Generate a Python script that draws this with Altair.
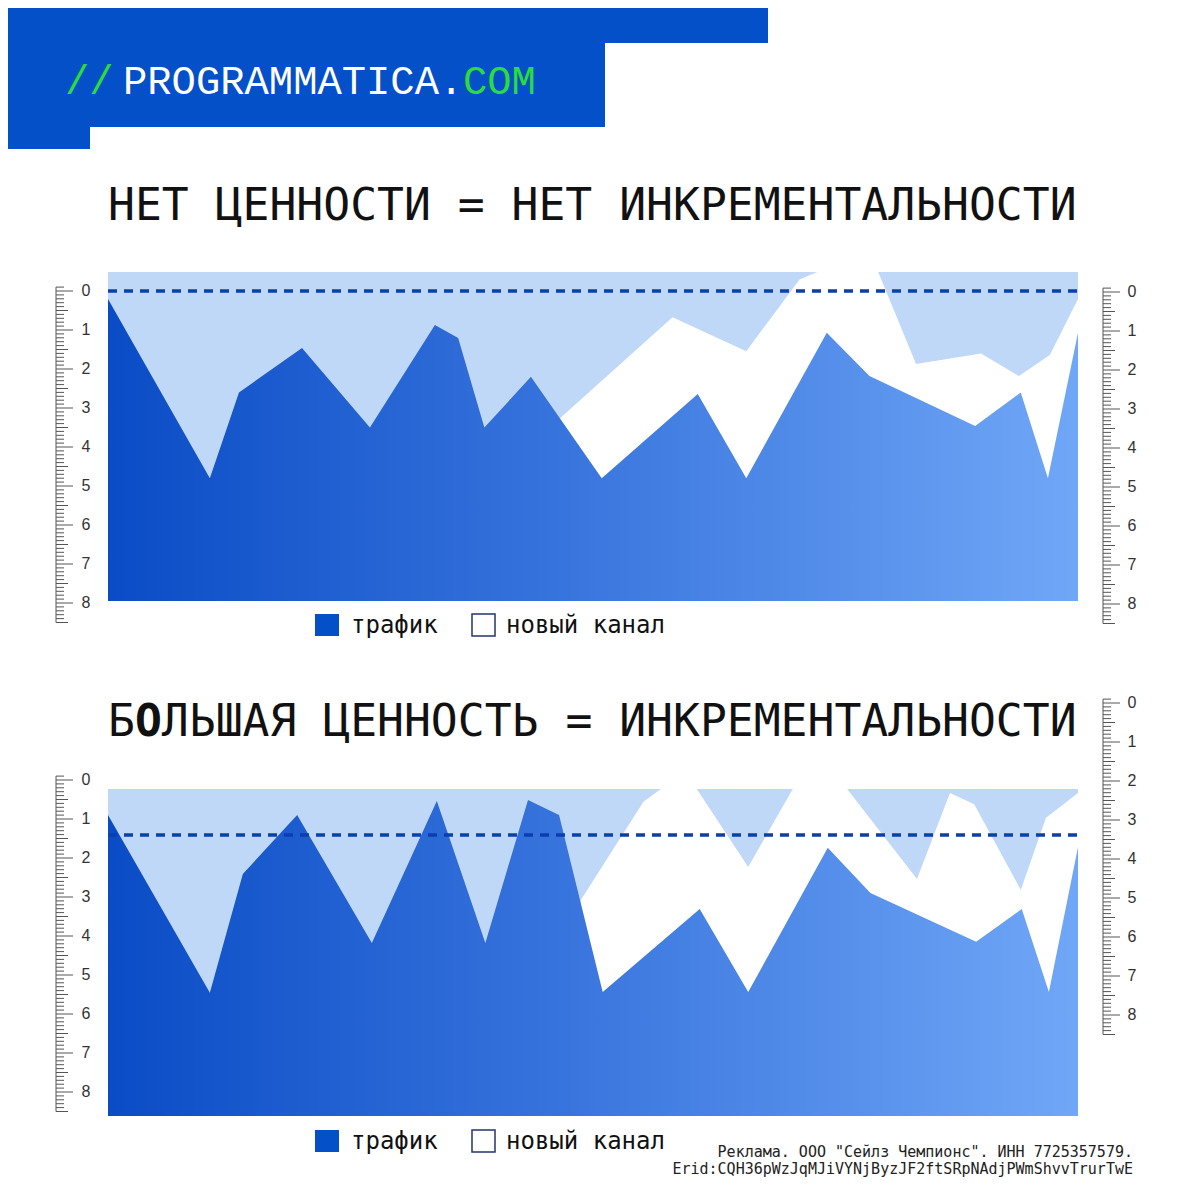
import altair as alt
import pandas as pd

# ------------------------------------------------------------------ data
# chart 1 (top): position along the period (0..100) and depth (0 = top)
TOP_T = [0, 10.5, 13.5, 20.0, 27.0, 33.7, 36.1, 38.8, 43.6, 50.9, 60.8, 65.8, 74.1, 78.5, 89.4, 94.1, 96.9, 100]
TOP_TRAFFIC = [0.2, 4.8, 2.6, 1.46, 3.5, 0.87, 1.2, 3.5, 2.2, 4.8, 2.64, 4.8, 1.07, 2.18, 3.46, 2.6, 4.8, 1.07]
TOP_NEW_T = [46.6, 58.2, 65.8, 71.3, 73.1, 79.4, 83.3, 90.0, 93.9, 97.1, 100]
TOP_NEW = [3.26, 0.67, 1.54, -0.3, -0.49, -0.49, 1.87, 1.6, 2.18, 1.64, 0.2]
TOP_TARGET = 0.0
TOP_DOMAIN = [-0.49, 7.95]

# chart 2 (bottom)
BOT_T = [0, 10.5, 13.9, 19.5, 27.2, 33.9, 38.9, 43.3, 46.5, 51.0, 61.0, 66.0, 74.2, 78.6, 89.5, 94.2, 97.0, 100]
BOT_TRAFFIC = [0.9, 5.46, 2.41, 0.9, 4.18, 0.54, 4.18, 0.51, 0.9, 5.44, 3.31, 5.44, 1.74, 2.9, 4.15, 3.31, 5.44, 1.72]
BOT_NEW_T = [48.7, 55.2, 57.0, 60.7, 66.0, 70.6, 76.2, 83.4, 86.8, 89.3, 94.1, 96.7, 100]
BOT_NEW = [3.1, 0.56, 0.23, 0.23, 2.23, 0.23, 0.23, 2.54, 0.33, 0.62, 2.82, 0.97, 0.33]
BOT_TARGET = 1.41
BOT_DOMAIN = [0.23, 8.62]

RULER_LABELS = [0, 1, 2, 3, 4, 5, 6, 7, 8]

TITLE_1 = "НЕТ ЦЕННОСТИ = НЕТ ИНКРЕМЕНТАЛЬНОСТИ"
TITLE_2_PARTS = ["Б", "О", "ЛЬШАЯ ЦЕННОСТЬ = ИНКРЕМЕНТАЛЬНОСТИ"]
LEGEND_LABELS = ["трафик", "новый канал"]
FOOTER = ["Реклама. ООО \"Сейлз Чемпионс\". ИНН 7725357579.",
          "Erid:CQH36pWzJqMJiVYNjByzJF2ftSRpNAdjPWmShvvTrurTwE"]
LOGO = ["//", "PROGRAMMATICA.", "COM"]

# ------------------------------------------------------------------ styles
BRAND = "#0450c8"
GREEN = "#2bdc3c"
LIGHT = "#c0d8f8"
DASH = "#0a3fb0"
RULER = "#555555"
MONO = "DejaVu Sans Mono"
TITLE_SIZE = 44.7
CHAR_W = TITLE_SIZE * 0.602

GRAD = alt.Gradient(
    gradient="linear",
    stops=[alt.GradientStop(color="#0a4cc6", offset=0),
           alt.GradientStop(color="#3874dd", offset=0.47),
           alt.GradientStop(color="#70a7f7", offset=1)],
    x1=0, x2=1, y1=0, y2=0)


def text(txt, x, y, **style):
    return alt.Chart(pd.DataFrame({"txt": [txt]})).mark_text(**style).encode(
        x=alt.value(x), y=alt.value(y), text="txt:N")


def panel(t, traffic, new_t, new, target, ydom, yrange):
    xs = alt.Scale(domain=[0, 100], range=[100, 1070], nice=False, zero=False)
    ys = alt.Scale(domain=ydom, range=yrange, nice=False, zero=False)
    top, bottom = ydom
    bg = alt.Chart(pd.DataFrame({"t0": [0], "t1": [100], "v0": [top], "v1": [bottom]})).mark_rect(
        color=LIGHT).encode(
        x=alt.X("t0:Q", scale=xs, axis=None), x2="t1:Q",
        y=alt.Y("v0:Q", scale=ys, axis=None), y2="v1:Q")
    white = alt.Chart(pd.DataFrame({"t": new_t, "v": new, "base": bottom})).mark_area(
        color="white").encode(
        x=alt.X("t:Q", scale=xs, axis=None),
        y=alt.Y("v:Q", scale=ys, axis=None), y2="base:Q")
    traf = alt.Chart(pd.DataFrame({"t": t, "v": traffic, "base": bottom})).mark_area(
        color=GRAD).encode(
        x=alt.X("t:Q", scale=xs, axis=None),
        y=alt.Y("v:Q", scale=ys, axis=None), y2="base:Q")
    dash = alt.Chart(pd.DataFrame({"t0": [0], "t1": [100], "v": [target]})).mark_rule(
        color=DASH, strokeWidth=3.5, strokeDash=[9, 7]).encode(
        x=alt.X("t0:Q", scale=xs, axis=None), x2="t1:Q",
        y=alt.Y("v:Q", scale=ys, axis=None))
    return alt.layer(bg, white, traf, dash)


def ruler(xline, xlabel, yrange):
    ys = alt.Scale(domain=[0, 8], range=yrange, nice=False, zero=False)
    line = alt.Chart(pd.DataFrame({"a": [-0.1], "b": [8.5]})).mark_rule(
        color=RULER, strokeWidth=1).encode(
        x=alt.value(xline), y=alt.Y("a:Q", scale=ys, axis=None), y2="b:Q")
    ticks = alt.Chart(alt.sequence(-0.1, 8.55, 0.1, as_="v")).transform_calculate(
        d="abs(datum.v - round(datum.v))"
    ).transform_calculate(
        len="datum.d < 0.01 ? 17 : (abs(datum.d - 0.5) < 0.01 ? 12 : 8)"
    ).transform_calculate(
        x0=f"{xline}", x1=f"{xline} + datum.len"
    ).mark_rule(color=RULER, strokeWidth=1).encode(
        x=alt.X("x0:Q", scale=None, axis=None), x2="x1:Q",
        y=alt.Y("v:Q", scale=ys, axis=None))
    labels = alt.Chart(pd.DataFrame({"v": RULER_LABELS})).mark_text(
        align="center", baseline="middle", font="Liberation Sans", fontSize=16,
        color="#333333").encode(
        x=alt.value(xlabel), y=alt.Y("v:Q", scale=ys, axis=None), text="v:Q")
    return alt.layer(line, ticks, labels)


def legend(ysq, ybase):
    sq1 = alt.Chart(pd.DataFrame({"k": [LEGEND_LABELS[0]]})).mark_rect(color=BRAND).encode(
        x=alt.value(307), x2=alt.value(331), y=alt.value(ysq), y2=alt.value(ysq + 22))
    sq2 = alt.Chart(pd.DataFrame({"k": [LEGEND_LABELS[1]]})).mark_rect(
        fill="white", stroke="#23356b", strokeWidth=1.5).encode(
        x=alt.value(464), x2=alt.value(487), y=alt.value(ysq), y2=alt.value(ysq + 22))
    t1 = text(LEGEND_LABELS[0], 343, ybase, align="left", baseline="alphabetic",
              font=MONO, fontSize=24, color="#111111")
    t2 = text(LEGEND_LABELS[1], 498, ybase, align="left", baseline="alphabetic",
              font=MONO, fontSize=24, color="#111111")
    return alt.layer(sq1, sq2, t1, t2)


# header banner
banner_df = pd.DataFrame({"x0": [0, 0, 0], "x1": [760, 597, 82],
                          "y0": [0, 0, 0], "y1": [35, 119, 141]})
banner = alt.Chart(banner_df).mark_rect(color=BRAND).encode(
    x=alt.X("x0:Q", scale=None, axis=None), x2="x1:Q",
    y=alt.Y("y0:Q", scale=None, axis=None), y2="y1:Q")

logo_style = dict(align="left", baseline="alphabetic", font="Liberation Mono", fontSize=40.5)
logo1 = text(LOGO[0], 57, 86, color=GREEN, **logo_style)
logo2 = text(LOGO[1], 115, 86, color="white", **logo_style)
logo3 = text(LOGO[2], 455, 86, color=GREEN, **logo_style)

title_style = dict(align="left", baseline="alphabetic", font=MONO, fontSize=TITLE_SIZE, color="#111111")
title1 = text(TITLE_1, 100, 212, **title_style)
title2a = text(TITLE_2_PARTS[0], 100, 728, **title_style)
title2b = text(TITLE_2_PARTS[1], 100 + CHAR_W, 728, fontWeight="bold", **title_style)
title2c = text(TITLE_2_PARTS[2], 100 + 2 * CHAR_W, 728, **title_style)

top_panel = panel(TOP_T, TOP_TRAFFIC, TOP_NEW_T, TOP_NEW, TOP_TARGET, TOP_DOMAIN, [264, 593])
bot_panel = panel(BOT_T, BOT_TRAFFIC, BOT_NEW_T, BOT_NEW, BOT_TARGET, BOT_DOMAIN, [781, 1108])

rulers = [
    ruler(48, 78, [283, 595]),
    ruler(1095, 1124, [284, 596]),
    ruler(48, 78, [772, 1084]),
    ruler(1095, 1124, [695, 1007]),
]

foot_style = dict(align="right", baseline="alphabetic", font=MONO, fontSize=15, color="#222222")
foot1 = text(FOOTER[0], 1125, 1149, **foot_style)
foot2 = text(FOOTER[1], 1125, 1166, **foot_style)

chart = alt.layer(
    banner, logo1, logo2, logo3,
    title1, top_panel, legend(606, 625),
    title2a, title2b, title2c, bot_panel, legend(1122, 1141),
    *rulers, foot1, foot2,
).resolve_scale(
    x="independent", y="independent"
).properties(
    width=1176, height=1176,
    autosize=alt.AutoSizeParams(type="none"), padding=0,
).configure_view(stroke=None)

chart.save("out.html", embed_options={"renderer": "svg", "actions": False})
